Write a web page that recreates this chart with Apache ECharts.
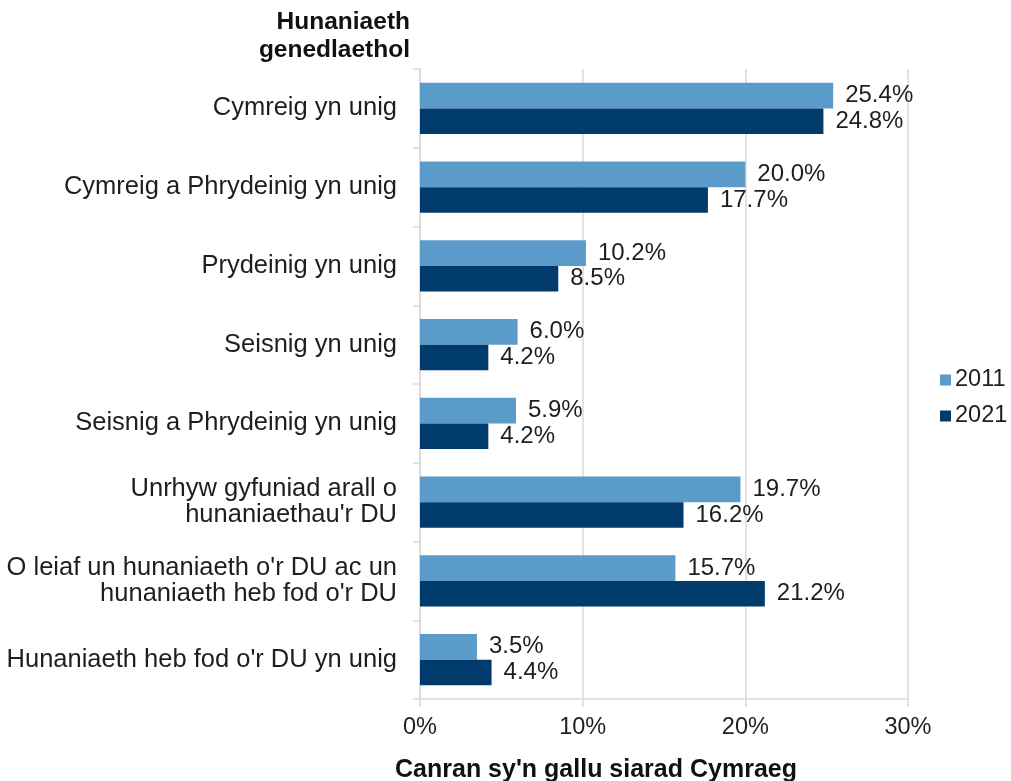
<!DOCTYPE html>
<html>
<head>
<meta charset="utf-8">
<script src="https://cdn.jsdelivr.net/npm/echarts@6/dist/echarts.min.js"></script>
<style>
html,body{margin:0;padding:0;background:#fff;}
#chart{width:1011px;height:781px;}
</style>
</head>
<body>
<div id="chart"></div>
<script>
const categories = [
  'Cymreig yn unig',
  'Cymreig a Phrydeinig yn unig',
  'Prydeinig yn unig',
  'Seisnig yn unig',
  'Seisnig a Phrydeinig yn unig',
  "Unrhyw gyfuniad arall o\nhunaniaethau'r DU",
  "O leiaf un hunaniaeth o'r DU ac un\nhunaniaeth heb fod o'r DU",
  "Hunaniaeth heb fod o'r DU yn unig"
];
const values2011 = [25.4, 20.0, 10.2, 6.0, 5.9, 19.7, 15.7, 3.5];
const values2021 = [24.8, 17.7, 8.5, 4.2, 4.2, 16.2, 21.2, 4.4];
const seriesNames = ['2011', '2021'];
const xTicks = [0, 10, 20, 30];
const yAxisTitle = 'Hunaniaeth\ngenedlaethol';
const xAxisTitle = "Canran sy'n gallu siarad Cymraeg";

const FONT = '"Liberation Sans", Arial, sans-serif';
const chart = echarts.init(document.getElementById('chart'), null, {renderer: 'canvas'});

const labelCfg = {
  show: true,
  position: 'right',
  distance: 12,
  fontFamily: FONT,
  fontSize: 24,
  color: '#1e1e1e',
  formatter: p => p.value.toFixed(1) + '%'
};

chart.setOption({
  animation: false,
  backgroundColor: '#fff',
  grid: {left: 420, top: 69, width: 488, height: 630, containLabel: false},
  legend: {
    orient: 'vertical',
    left: 940,
    top: 368,
    padding: 0,
    itemWidth: 11,
    itemHeight: 11,
    itemGap: 12,
    icon: 'rect',
    data: seriesNames,
    textStyle: {fontFamily: FONT, fontSize: 23.5, color: '#1e1e1e', padding: [0,0,0,-1]}
  },
  xAxis: {
    type: 'value',
    min: xTicks[0],
    max: xTicks[xTicks.length - 1],
    interval: xTicks[1] - xTicks[0],
    axisLine: {show: true, lineStyle: {color: '#d9d9d9', width: 1.5}},
    axisTick: {show: true, length: 8, lineStyle: {color: '#d9d9d9', width: 1.5}},
    splitLine: {show: true, lineStyle: {color: '#d9d9d9', width: 1.5}},
    axisLabel: {fontFamily: FONT, fontSize: 23.5, color: '#1e1e1e', margin: 17, formatter: '{value}%'}
  },
  yAxis: {
    type: 'category',
    inverse: true,
    data: categories,
    axisLine: {show: true, lineStyle: {color: '#d9d9d9', width: 1.5}},
    axisTick: {show: true, length: 7, lineStyle: {color: '#d9d9d9', width: 1.5}},
    axisLabel: {fontFamily: FONT, fontSize: 25.5, color: '#1e1e1e', margin: 23, lineHeight: 26, align: 'right'}
  },
  series: [
    {
      name: seriesNames[0], type: 'bar', data: values2011,
      barCategoryGap: '35%', barGap: '0%',
      itemStyle: {color: '#5b9bc9'},
      label: labelCfg
    },
    {
      name: seriesNames[1], type: 'bar', data: values2021,
      barCategoryGap: '35%', barGap: '0%',
      itemStyle: {color: '#003b6c'},
      label: labelCfg
    }
  ],
  graphic: [
    {
      type: 'text', x: 410, y: 8,
      style: {text: yAxisTitle, font: 'bold 24.5px ' + FONT, fill: '#111', textAlign: 'right', textVerticalAlign: 'top', lineHeight: 28}
    },
    {
      type: 'text', x: 596, y: 770,
      style: {text: xAxisTitle, font: 'bold 25px ' + FONT, fill: '#111', textAlign: 'center', textVerticalAlign: 'middle'}
    }
  ]
});
</script>
</body>
</html>
